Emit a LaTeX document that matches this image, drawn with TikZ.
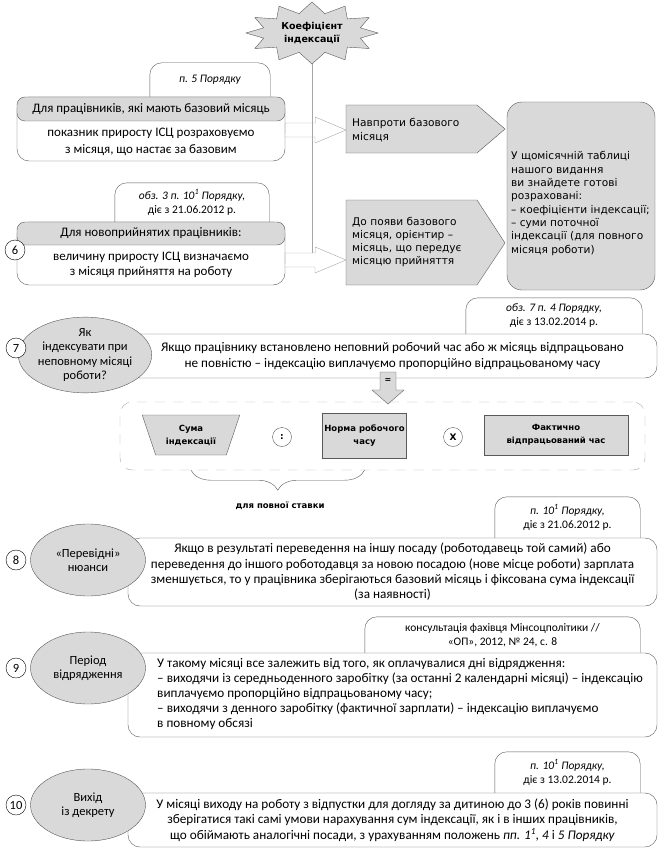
\documentclass[tikz,border=0pt]{standalone}
\usepackage{fontspec}
\setmainfont{Carlito}
\newfontfamily\wideface{DejaVu Sans}
\usetikzlibrary{shapes.geometric,decorations.pathreplacing,backgrounds}

\definecolor{boxgray}{HTML}{D9D9D9}
\definecolor{edgegray}{HTML}{595959}
\definecolor{linkgray}{HTML}{A6A6A6}

\tikzset{
  mainbox/.style={draw=edgegray, fill=white, rounded corners=12pt, inner sep=0pt, align=center, font=\fontsize{13.2}{15.3}\selectfont},
  headbox/.style={draw=edgegray, fill=boxgray, rounded corners=8pt, inner sep=0pt, font=\fontsize{13}{15}\selectfont},
  bodytext/.style={inner sep=0pt, align=center, font=\fontsize{13}{15}\selectfont},
  reftext/.style={inner sep=0pt, align=center, font=\fontsize{11.5}{14}\selectfont},
  refline/.style={draw=edgegray, fill=white, rounded corners=12pt},
  topic/.style={ellipse, draw=edgegray, fill=boxgray, inner sep=0pt, align=center, font=\fontsize{12.5}{14.5}\selectfont},
  numcirc/.style={circle, draw=black, fill=white, inner sep=0pt, minimum size=20pt, font=\fontsize{12.5}{12}\selectfont},
  pointbox/.style={draw=edgegray, fill=boxgray},
  sidetext/.style={inner sep=0pt, align=left, font=\wideface\fontsize{10.6}{13.3}\selectfont},
  hollowarrow/.style={draw=linkgray, fill=white, line join=miter},
  eqarrow/.style={draw=edgegray, fill=boxgray, line join=miter},
  linkline/.style={draw=linkgray, line width=0.8pt},
  factor/.style={draw=edgegray, fill=boxgray, inner sep=0pt, align=center, font=\wideface\bfseries\fontsize{8.5}{13}\selectfont},
  opcirc/.style={circle, draw=edgegray, fill=white, minimum size=19pt, inner sep=0pt, font=\wideface\bfseries\fontsize{9}{9}\selectfont},
}

\begin{document}
\begin{tikzpicture}[x=1pt, y=-1pt]
\useasboundingbox (0,0) rectangle (665,856);
\coordinate (coef) at (312,33);

% first rule: workers with a base month
\node[mainbox, minimum width=268, minimum height=64] (b1) at (151,129) {};
\node[headbox, minimum width=268, minimum height=24] (h1) at (151,109) {Для працівників, які мають базовий місяць};
\node[bodytext, font=\fontsize{13}{17}\selectfont] (t1) at (151,141.5) {показник приросту ІСЦ розраховуємо\\з місяця, що настає за базовим};
\node[reftext, minimum width=120, minimum height=34] (r1) at (210,80) {\itshape п. 5 Порядку};

% second rule: new workers
\node[mainbox, minimum width=268, minimum height=63] (b2) at (151,253.5) {};
\node[headbox, minimum width=268, minimum height=23] (h2) at (151,233.5) {Для новоприйнятих працівників:};
\node[bodytext, font=\fontsize{13}{14.5}\selectfont] (t2) at (151,265) {величину приросту ІСЦ визначаємо\\з місяця прийняття на роботу};
\node[reftext, minimum width=154, minimum height=39] (r2) at (192,202.5) {\textit{обз. 3 п. 10\textsuperscript{1} Порядку,}\\діє з 21.06.2012 р.};
\node[numcirc] (n6) at (15,250) {6};

% where to look
\draw[pointbox] (346,105) -- (477,105) -- (505,129) -- (477,153) -- (346,153) -- cycle;
\node[sidetext, anchor=west] (p1) at (352,130) {Навпроти базового\\місяця};
\coordinate (p1w) at (346,130);
\draw[pointbox] (346,200) -- (477,200) -- (505,243) -- (477,285) -- (346,285) -- cycle;
\node[sidetext, anchor=west] (p2) at (352,242) {До появи базового\\місяця, орієнтир –\\місяць, що передує\\місяцю прийняття};
\coordinate (p2w) at (346,260);
\node[pointbox, rounded corners=15pt, minimum width=148, minimum height=188, inner sep=0pt] (rb) at (581,196) {};
\node[sidetext, anchor=west] (rt) at (511,203.5) {У щомісячній таблиці\\нашого видання\\ви знайдете готові\\розраховані:\\– коефіцієнти індексації;\\– суми поточної\\індексації (для повного\\місяця роботи)};

% hollow arrows and the line from the star
\draw[hollowarrow] (b1.east |- p1w) ++(0,-7) -- ++(30,0) -- ++(0,-6) -- (p1w) -- ++(-31,13) -- ++(0,-6) -- ++(-30,0) -- cycle;
\draw[hollowarrow] (b2.east |- p2w) ++(0,-7) coordinate (a2top) -- ++(30,0) -- ++(0,-6) -- (p2w) -- ++(-31,13) -- ++(0,-6) -- ++(-30,0) -- cycle;
\draw[linkline] (coef) -- (coef |- a2top);

% star
\filldraw[draw=edgegray, fill=boxgray] plot[samples at={0,15,...,345}, variable=\t]
  ({312+(mod(\t,30)==0 ? 66 : 50)*cos(\t)}, {33+(mod(\t,30)==0 ? 31 : 20)*sin(\t)}) -- cycle;
\node[font=\wideface\bfseries\fontsize{9.5}{13}\selectfont, align=center] (coeftext) at (coef) {Коефіцієнт\\індексації};

% 7: part-time month
\node[mainbox, minimum width=529, minimum height=44] (m7) at (392.5,356) {Якщо працівнику встановлено неповний робочий час або ж місяць відпрацьовано\\не повністю – індексацію виплачуємо пропорційно відпрацьованому часу};
\node[topic, minimum width=115, minimum height=75] (e7) at (85,355) {Як\\індексувати при\\неповному місяці\\роботи?};
\node[numcirc] (n7) at (16,348) {7};
\node[reftext, minimum width=176, minimum height=36] (r7) at (554,316) {\itshape обз. 7 п. 4 Порядку,\\діє з 13.02.2014 р.};

% formula
\node[draw=linkgray, dash pattern=on 10pt off 8pt, rounded corners=12pt, minimum width=525, minimum height=68] (dbox) at (382.5,436) {};
\coordinate (eq) at (388,381);
\draw[eqarrow] (eq) ++(-8,-9) -- ++(16,0) -- ++(0,18) -- ++(8,0) -- ++(-16,14) -- ++(-16,-14) -- ++(8,0) -- cycle;
\node[font=\wideface\bfseries\fontsize{8}{8}\selectfont] (eqsign) at (eq) {=};
\node[factor, trapezium, shape border rotate=180, trapezium left angle=65, trapezium right angle=65, trapezium stretches=true, minimum width=98, minimum height=40] (fs) at (191,435) {Сума\\індексації};
\node[opcirc] (o1) at (282,437) {:};
\node[factor, minimum width=84, minimum height=45] (fn) at (364.5,435.5) {Норма робочого\\часу};
\node[opcirc] (o2) at (453,437) {X};
\node[factor, minimum width=144, minimum height=40] (ff) at (556,435) {Фактично\\відпрацьований час};
\draw[edgegray, decorate, decoration={brace, mirror, amplitude=20pt}] (fs.center |- dbox.south) -- (fn.center |- dbox.south);
\node[font=\wideface\bfseries\fontsize{8.5}{10}\selectfont] (full) at (280,506) {для повної ставки};

% 8: transfers
\node[mainbox, minimum width=529, minimum height=68] (m8) at (392.5,572) {Якщо в результаті переведення на іншу посаду (роботодавець той самий) або\\переведення до іншого роботодавця за новою посадою (нове місце роботи) зарплата\\зменшується, то у працівника зберігаються базовий місяць і фіксована сума індексації\\(за наявності)};
\node[topic, minimum width=115, minimum height=72] (e8) at (88,560) {«Перевідні»\\нюанси};
\node[numcirc] (n8) at (16,560) {8};
\node[reftext, minimum width=145, minimum height=41] (r8) at (567.5,517.5) {\textit{п. 10\textsuperscript{1} Порядку,}\\діє з 21.06.2012 р.};

% 9: business trip
\node[mainbox, minimum width=529, minimum height=84] (m9) at (392.5,695) {};
\node[bodytext, anchor=west, align=left, font=\fontsize{13.2}{14.8}\selectfont] (t9) at (157,694) {У такому місяці все залежить від того, як оплачувалися дні відрядження:\\– виходячи із середньоденного заробітку (за останні 2 календарні місяці) – індексацію\\виплачуємо пропорційно відпрацьованому часу;\\– виходячи з денного заробітку (фактичної зарплати) – індексацію виплачуємо\\в повному обсязі};
\node[topic, minimum width=115, minimum height=72] (e9) at (88,668) {Період\\відрядження};
\node[numcirc] (n9) at (16,668) {9};
\node[reftext, minimum width=275, minimum height=36] (r9) at (502.5,635) {консультація фахівця Мінсоцполітики //\\«ОП», 2012, № 24, с. 8};

% 10: back from parental leave
\node[mainbox, minimum width=529, minimum height=54] (m10) at (392.5,820) {У місяці виходу на роботу з відпустки для догляду за дитиною до 3 (6) років повинні\\зберігатися такі самі умови нарахування сум індексації, як і в інших працівників,\\що обіймають аналогічні посади, з урахуванням положень \textit{пп. 1\textsuperscript{1}, 4} і \textit{5 Порядку}};
\node[topic, minimum width=115, minimum height=72] (e10) at (88,805) {Вихід\\із декрету};
\node[numcirc] (n10) at (16,805) {10};
\node[reftext, minimum width=145, minimum height=41] (r10) at (567.5,772.5) {\textit{п. 10\textsuperscript{1} Порядку,}\\діє з 13.02.2014 р.};

% reference tabs behind the boxes
\begin{scope}[on background layer]
  \foreach \r in {r1,r2,r7,r8,r9,r10}
    \draw[refline] (\r.north west) rectangle ([yshift=-14pt]\r.south east);
\end{scope}
\end{tikzpicture}
\end{document}
